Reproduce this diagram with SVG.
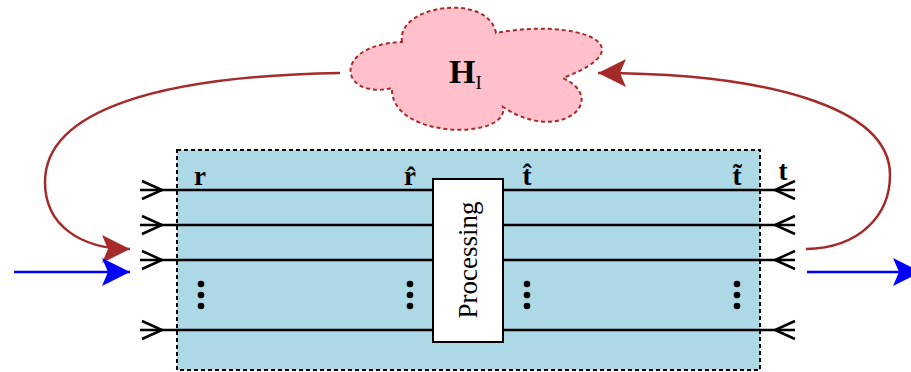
<svg xmlns="http://www.w3.org/2000/svg" width="911" height="372" viewBox="0 0 911 372">
<style>
.wire{stroke:#000;stroke-width:2.5;fill:none}
.chev{stroke:#000;stroke-width:2.5;fill:none;stroke-linejoin:miter}
.lbl{font-family:"Liberation Serif","DejaVu Serif",serif;font-weight:bold;font-size:27px;fill:#000;text-anchor:middle}
.brown{stroke:#A52A2A;stroke-width:2.5;fill:none}
.blue{stroke:#0000FF;stroke-width:2.5;fill:none}
.dot{fill:#000}
</style>
<defs>
<marker id="ahBrown" markerUnits="userSpaceOnUse" markerWidth="30" markerHeight="30" viewBox="-29 -15 30 30" refX="0" refY="0" orient="auto">
<path d="M0,0 L-28,-14 L-22,0 L-28,14 Z" fill="#A52A2A"/>
</marker>
<marker id="ahBlue" markerUnits="userSpaceOnUse" markerWidth="30" markerHeight="30" viewBox="-29 -15 30 30" refX="0" refY="0" orient="auto">
<path d="M0,0 L-28,-14 L-22,0 L-28,14 Z" fill="#0000FF"/>
</marker>
<path id="chevR" class="chev" d="M-20,-9 L0,0 L-20,9"/>
<path id="chevL" class="chev" d="M20,-9 L0,0 L20,9"/>
<g id="vdots">
<circle class="dot" cx="0" cy="0" r="3.3"/>
<circle class="dot" cx="0" cy="11" r="3.3"/>
<circle class="dot" cx="0" cy="22" r="3.3"/>
</g>
</defs>

<g id="system">
<rect x="177" y="150" width="583" height="220" fill="#ADD8E6" stroke="#000" stroke-width="2" stroke-dasharray="4 3"/>
</g>

<g id="wires">
<line class="wire" x1="140" y1="190" x2="795" y2="190"/>
<line class="wire" x1="140" y1="225" x2="795" y2="225"/>
<line class="wire" x1="140" y1="260" x2="795" y2="260"/>
<line class="wire" x1="140" y1="330" x2="795" y2="330"/>
<use href="#chevR" x="162" y="190"/>
<use href="#chevR" x="162" y="225"/>
<use href="#chevR" x="162" y="260"/>
<use href="#chevR" x="162" y="330"/>
<use href="#chevL" x="775" y="190"/>
<use href="#chevL" x="775" y="225"/>
<use href="#chevL" x="775" y="260"/>
<use href="#chevL" x="775" y="330"/>
</g>

<g id="processing">
<rect x="433" y="179" width="70" height="163" fill="#fff" stroke="#000" stroke-width="2"/>
<text transform="translate(477,260) rotate(-90)" font-family="'Liberation Serif','DejaVu Serif',serif" font-size="27" text-anchor="middle">Processing</text>
</g>

<g id="labels">
<text class="lbl" x="200" y="185">r</text>
<text class="lbl" x="410" y="185">r̂</text>
<text class="lbl" x="527" y="185">t̂</text>
<text class="lbl" x="737" y="185">t̃</text>
<text class="lbl" x="783" y="180">t</text>
<use href="#vdots" x="201" y="284"/>
<use href="#vdots" x="410" y="284"/>
<use href="#vdots" x="527" y="284"/>
<use href="#vdots" x="737" y="284"/>
</g>

<g id="cloud">
<path d="M402,42 C396,5 488,-8 496,33 C575,18 650,45 563,78 C610,100 560,145 503,107 C510,140 390,140 392,88 C340,100 330,45 402,42 Z" fill="#FFC0CB" stroke="#A52A2A" stroke-width="2" stroke-dasharray="4 3"/>
<text x="449" y="83" font-family="'Liberation Serif','DejaVu Serif',serif" font-weight="bold" font-size="34">H<tspan font-weight="normal" font-size="19" dy="6">I</tspan></text>
</g>

<g id="connectors">
<path class="brown" d="M340,73 C160,76 45,110 45,182 C45,225 80,249 130,249" marker-end="url(#ahBrown)"/>
<path class="brown" d="M806,249 C860,248 890,215 890,175 C890,105 760,73 598,73" marker-end="url(#ahBrown)"/>
<path class="blue" d="M14,272 L130,272" marker-end="url(#ahBlue)"/>
<path class="blue" d="M807,272 L921,272" marker-end="url(#ahBlue)"/>
</g>
</svg>
